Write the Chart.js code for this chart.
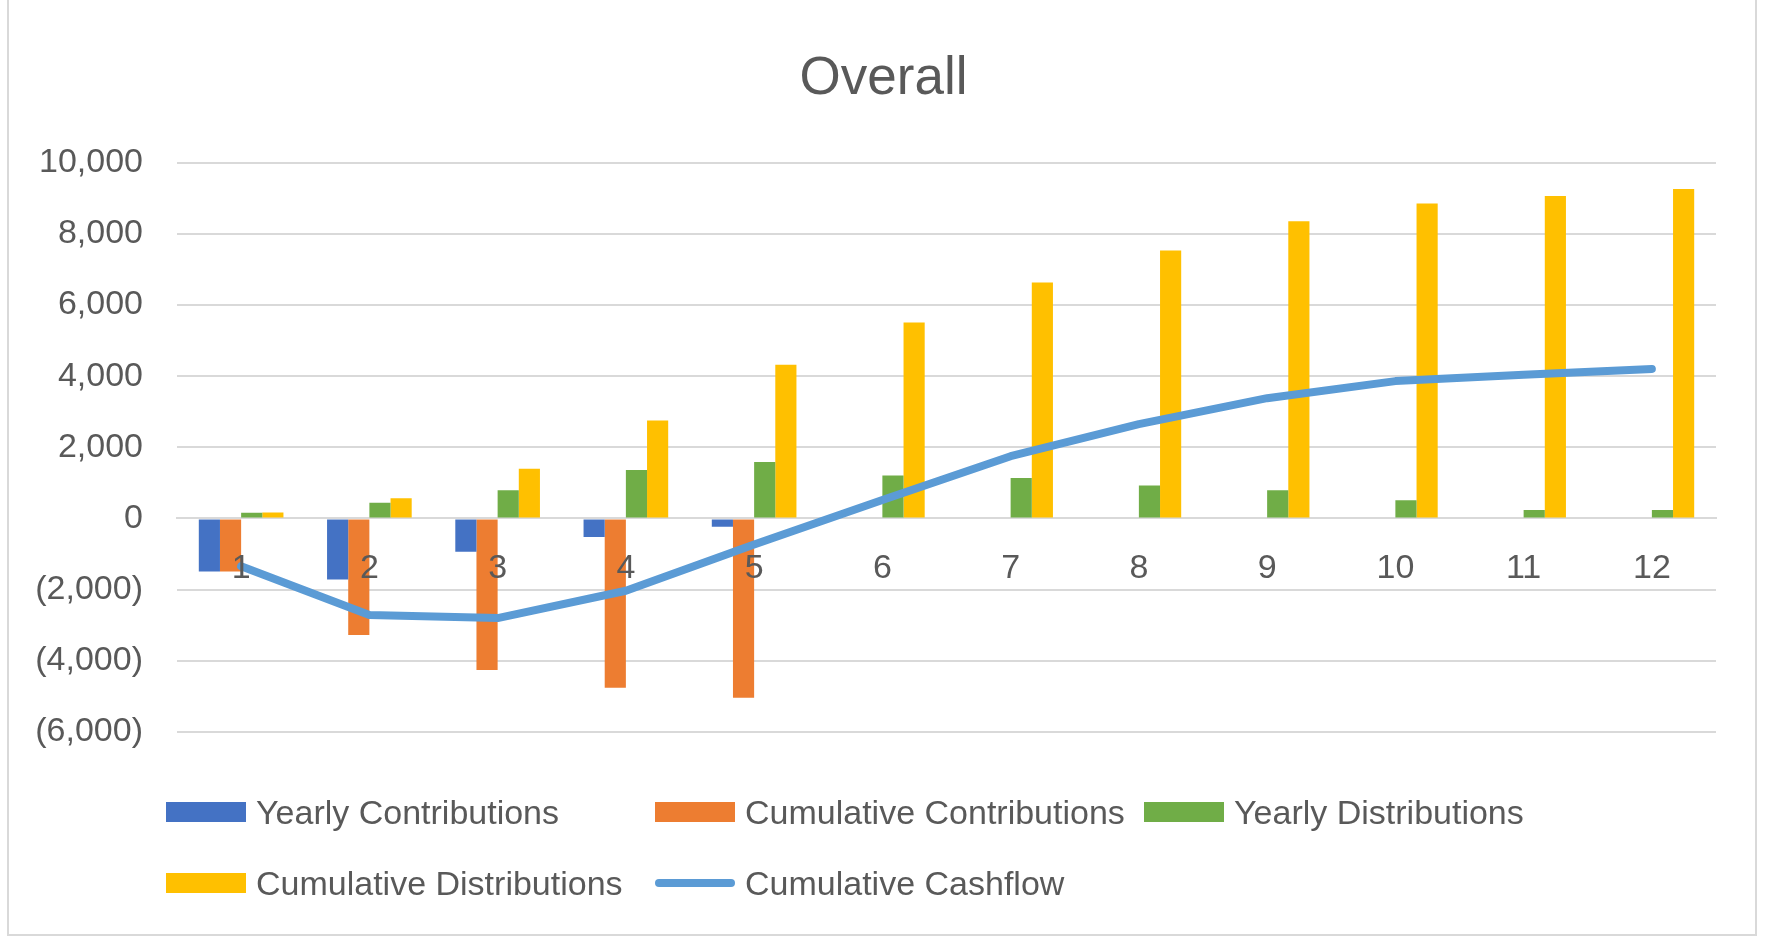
<!DOCTYPE html>
<html>
<head>
<meta charset="utf-8">
<title>Overall</title>
<script src="https://cdn.jsdelivr.net/npm/chart.js@4.4.1/dist/chart.umd.min.js"></script>
<style>
  html, body { margin: 0; padding: 0; background: #fff; }
  #wrap { position: relative; width: 1767px; height: 937px; overflow: hidden; }
  #frame { position: absolute; left: 7px; top: -2px; width: 1750px; height: 938px; border: 2px solid #d9d9d9; box-sizing: border-box; pointer-events: none; }
  #legend { position: absolute; left: 166px; top: 787px; display: grid; grid-template-columns: 489px 489px 489px; grid-auto-rows: 71px; font-family: 'Liberation Sans', Arial, sans-serif; font-size: 34px; color: #595959; }
  .item { display: flex; align-items: center; height: 50px; white-space: nowrap; }
  .swatch { width: 80px; height: 20px; margin-right: 10px; flex: none; }
  .swatch.line { height: 8px; border-radius: 4px; }
</style>
</head>
<body>
<div id="wrap">
  <canvas id="myChart"></canvas>
  <div id="legend"></div>
  <div id="frame"></div>
</div>
<script>
const years = ['1', '2', '3', '4', '5', '6', '7', '8', '9', '10', '11', '12'];
const yearlyContributions = [-1490, -1715, -935, -520, -235, null, null, null, null, null, null, null];
const cumulativeContributions = [-1490, -3275, -4260, -4755, -5035, null, null, null, null, null, null, null];
const yearlyDistributions = [160, 440, 790, 1360, 1590, 1210, 1135, 930, 790, 515, 235, 235];
const cumulativeDistributions = [165, 570, 1400, 2755, 4320, 5510, 6630, 7530, 8350, 8850, 9060, 9260];
const cumulativeCashflow = [-1340, -2710, -2800, -2030, -730, 520, 1750, 2650, 3380, 3860, 4040, 4200];

const font = "'Liberation Sans', Arial, sans-serif";
const textColor = '#595959';
const gridColor = '#d9d9d9';

function money(v) {
    const s = Math.abs(v).toLocaleString('en-US');
    return v < 0 ? '(' + s + ')' : s;
}

const ctx = document.getElementById('myChart').getContext('2d');
const myChart = new Chart(ctx, {
    data: {
        labels: years,
        datasets: [
            { type: 'bar', label: 'Yearly Contributions', data: yearlyContributions, backgroundColor: '#4472C4', order: 1 },
            { type: 'bar', label: 'Cumulative Contributions', data: cumulativeContributions, backgroundColor: '#ED7D31', order: 1 },
            { type: 'bar', label: 'Yearly Distributions', data: yearlyDistributions, backgroundColor: '#70AD47', order: 1 },
            { type: 'bar', label: 'Cumulative Distributions', data: cumulativeDistributions, backgroundColor: '#FFC000', order: 1 },
            {
                type: 'line', label: 'Cumulative Cashflow', data: cumulativeCashflow,
                borderColor: '#5B9BD5', backgroundColor: '#5B9BD5', borderWidth: 8,
                borderCapStyle: 'round', borderJoinStyle: 'round',
                pointRadius: 0, tension: 0, order: 0
            }
        ]
    },
    options: {
        responsive: true,
        maintainAspectRatio: false,
        animation: false,
        datasets: {
            bar: { categoryPercentage: 0.66, barPercentage: 1.0 }
        },
        layout: { padding: { left: 0, right: 0, top: 0, bottom: 205 } },
        scales: {
            x: {
                position: { y: 0 },
                grid: { display: false, drawTicks: false },
                border: { color: gridColor, width: 2 },
                ticks: { z: 1, color: textColor, font: { family: font, size: 34 }, padding: 30, maxRotation: 0 }
            },
            y: {
                min: -6000,
                max: 10000,
                afterFit: scale => { scale.width = 177; },
                grid: { color: gridColor, lineWidth: 2, drawTicks: false },
                border: { display: false },
                ticks: {
                    stepSize: 2000,
                    color: textColor,
                    font: { family: font, size: 34 },
                    padding: 34,
                    callback: v => money(v)
                }
            },
            // blank right margin so the plot ends short of the frame
            yRight: {
                position: 'right',
                min: -6000,
                max: 10000,
                afterFit: scale => { scale.width = 51; },
                grid: { display: false, drawTicks: false },
                border: { display: false },
                ticks: { display: false }
            }
        },
        plugins: {
            legend: { display: false },
            tooltip: { enabled: false },
            title: {
                display: true,
                text: 'Overall',
                color: textColor,
                font: { family: font, size: 53, weight: 'normal' },
                padding: { top: 48, bottom: 51 }
            }
        }
    }
});

// legend laid out in fixed columns
const legendEl = document.getElementById('legend');
myChart.data.datasets.forEach(ds => {
    const item = document.createElement('div');
    item.className = 'item';
    const sw = document.createElement('span');
    sw.className = ds.type === 'line' ? 'swatch line' : 'swatch';
    sw.style.background = ds.type === 'line' ? ds.borderColor : ds.backgroundColor;
    const txt = document.createElement('span');
    txt.textContent = ds.label;
    item.appendChild(sw);
    item.appendChild(txt);
    legendEl.appendChild(item);
});
</script>
</body>
</html>
